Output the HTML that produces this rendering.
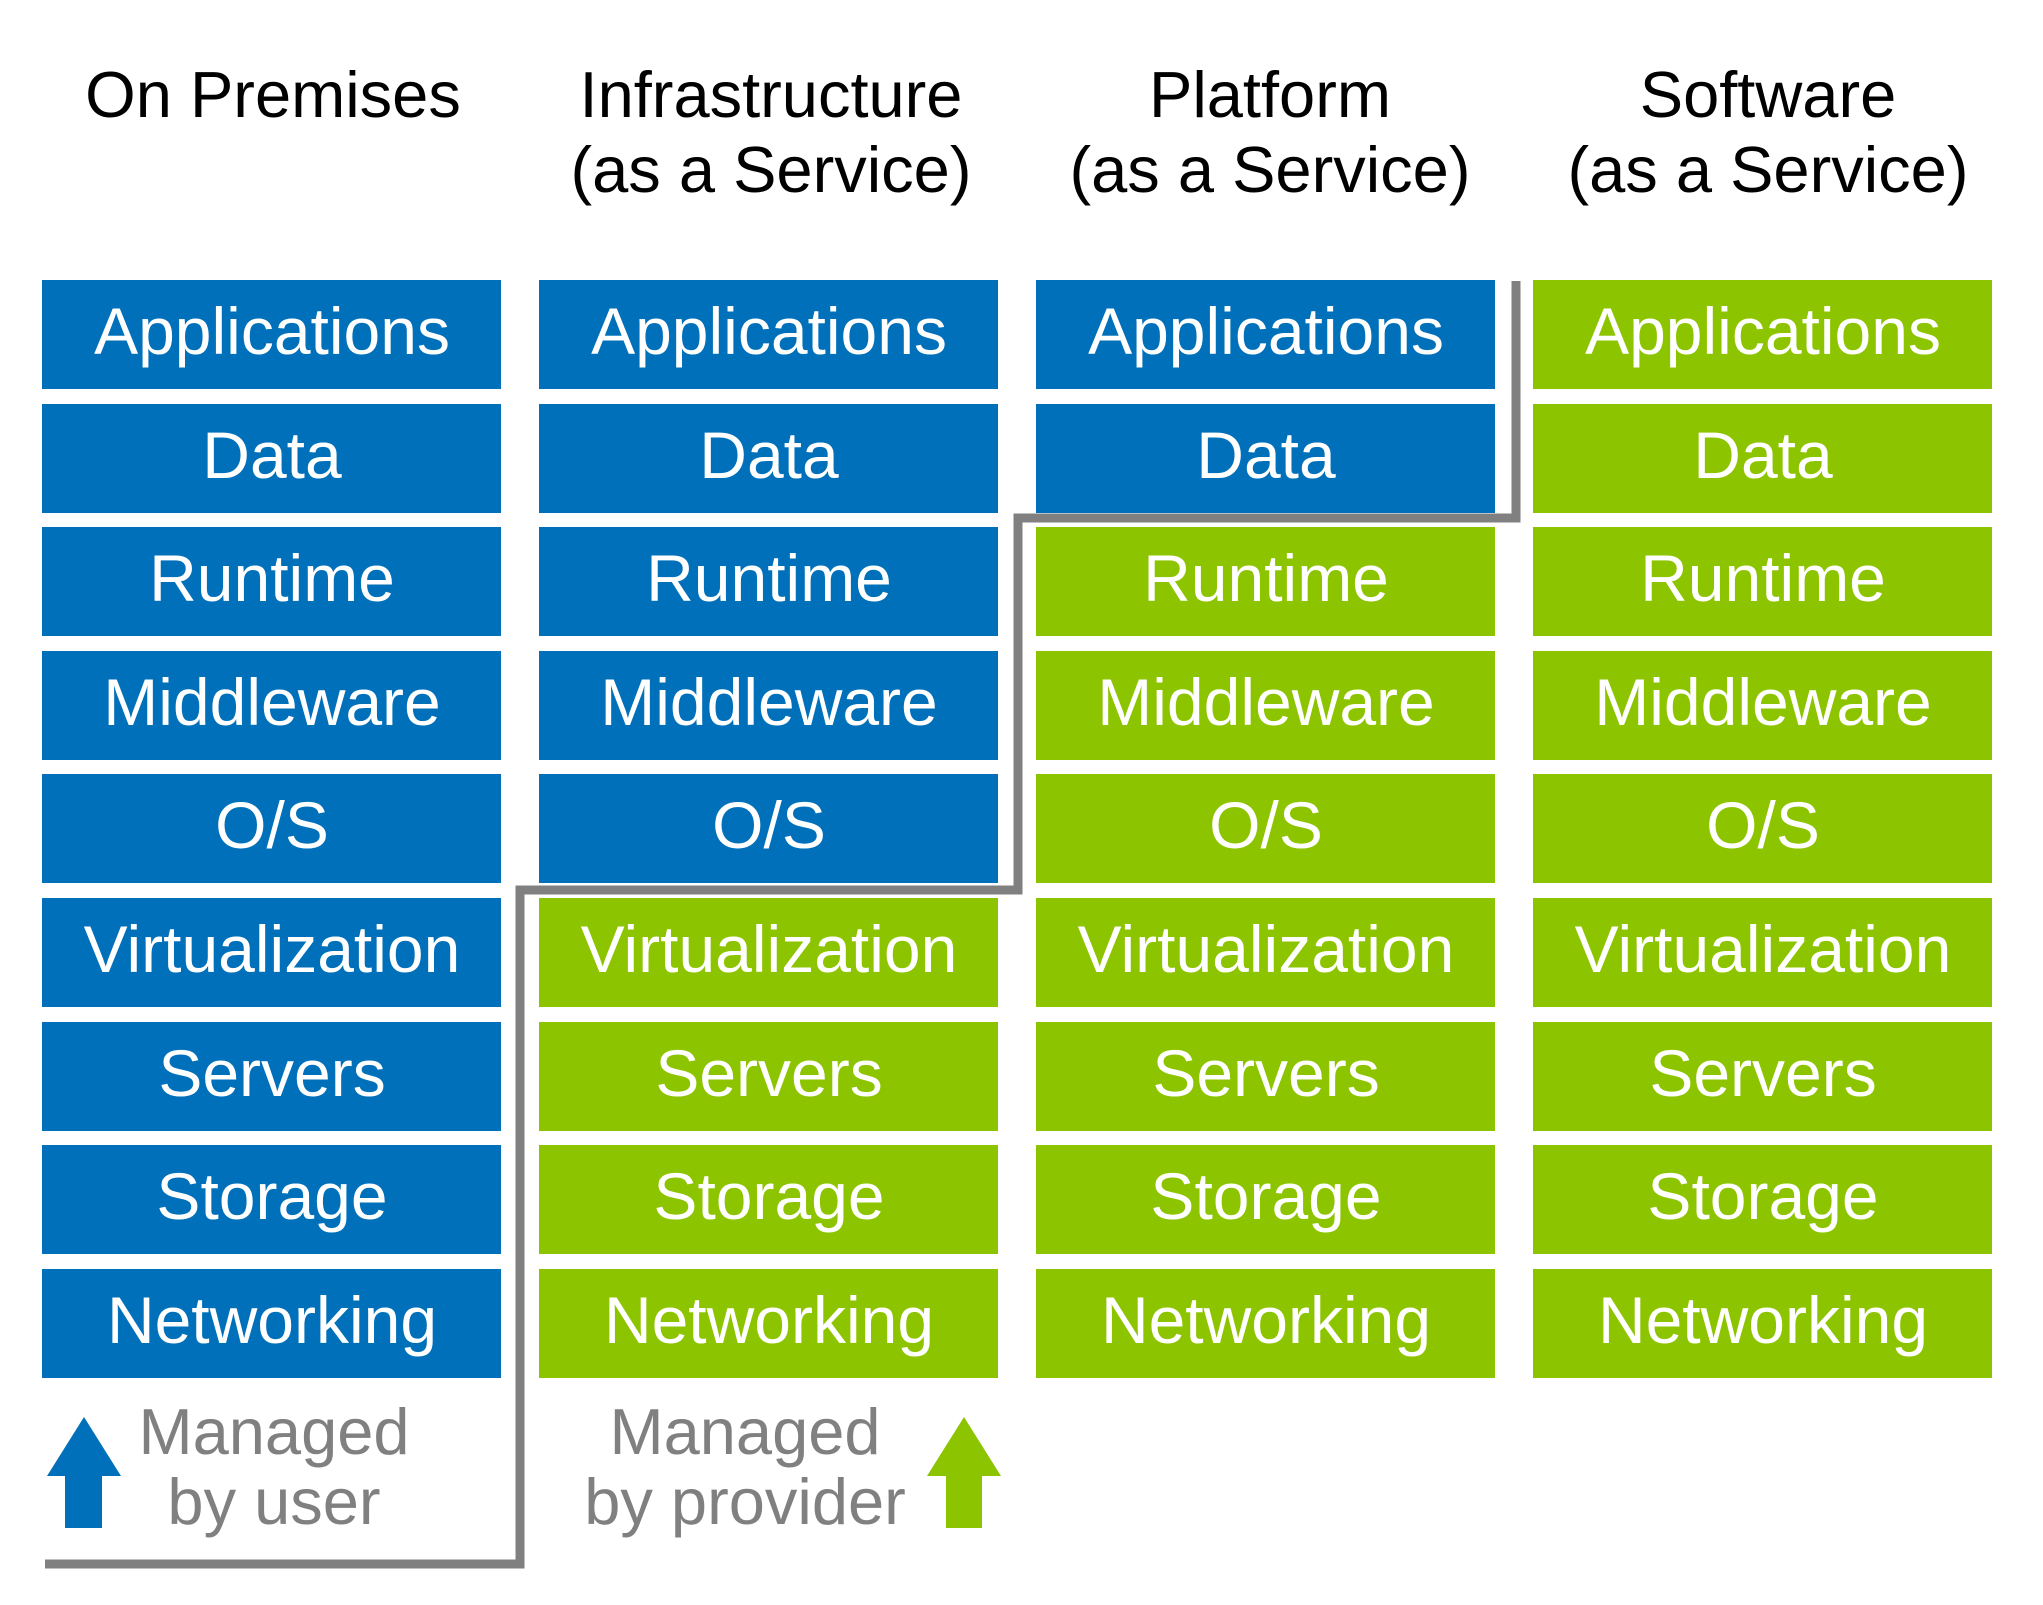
<!DOCTYPE html>
<html><head><meta charset="utf-8"><style>
html,body{margin:0;padding:0;background:#fff;}
svg{display:block;}
text{font-family:"Liberation Sans",Arial,sans-serif;}
</style></head><body>
<svg width="2043" height="1605" viewBox="0 0 2043 1605" xmlns="http://www.w3.org/2000/svg">
<defs>
<g id="labels">
<text x="0" y="354">Applications</text><text x="0" y="478">Data</text><text x="0" y="601">Runtime</text><text x="0" y="725">Middleware</text><text x="0" y="848">O/S</text><text x="0" y="972">Virtualization</text><text x="0" y="1096">Servers</text><text x="0" y="1219">Storage</text><text x="0" y="1343">Networking</text>
</g>
</defs>
<rect width="2043" height="1605" fill="#fff"/>
<g font-size="65" fill="#000" text-anchor="middle">
<text x="273" y="117">On Premises</text>
<text x="771" y="117">Infrastructure</text>
<text x="771" y="192">(as a Service)</text>
<text x="1270" y="117">Platform</text>
<text x="1270" y="192">(as a Service)</text>
<text x="1768" y="117">Software</text>
<text x="1768" y="192">(as a Service)</text>
</g>
<g fill="#0070BA">
<rect x="42" y="280" width="459" height="109"/><rect x="42" y="404" width="459" height="109"/><rect x="42" y="527" width="459" height="109"/><rect x="42" y="651" width="459" height="109"/><rect x="42" y="774" width="459" height="109"/><rect x="42" y="898" width="459" height="109"/><rect x="42" y="1022" width="459" height="109"/><rect x="42" y="1145" width="459" height="109"/><rect x="42" y="1269" width="459" height="109"/>
<rect x="539" y="280" width="459" height="109"/><rect x="539" y="404" width="459" height="109"/><rect x="539" y="527" width="459" height="109"/><rect x="539" y="651" width="459" height="109"/><rect x="539" y="774" width="459" height="109"/>
<rect x="1036" y="280" width="459" height="109"/><rect x="1036" y="404" width="459" height="109"/>
</g>
<g fill="#8DC400">
<rect x="539" y="898" width="459" height="109"/><rect x="539" y="1022" width="459" height="109"/><rect x="539" y="1145" width="459" height="109"/><rect x="539" y="1269" width="459" height="109"/>
<rect x="1036" y="527" width="459" height="109"/><rect x="1036" y="651" width="459" height="109"/><rect x="1036" y="774" width="459" height="109"/><rect x="1036" y="898" width="459" height="109"/><rect x="1036" y="1022" width="459" height="109"/><rect x="1036" y="1145" width="459" height="109"/><rect x="1036" y="1269" width="459" height="109"/>
<rect x="1533" y="280" width="459" height="109"/><rect x="1533" y="404" width="459" height="109"/><rect x="1533" y="527" width="459" height="109"/><rect x="1533" y="651" width="459" height="109"/><rect x="1533" y="774" width="459" height="109"/><rect x="1533" y="898" width="459" height="109"/><rect x="1533" y="1022" width="459" height="109"/><rect x="1533" y="1145" width="459" height="109"/><rect x="1533" y="1269" width="459" height="109"/>
</g>
<g font-size="66" fill="#fff" text-anchor="middle">
<use href="#labels" x="272"/>
<use href="#labels" x="769"/>
<use href="#labels" x="1266"/>
<use href="#labels" x="1763"/>
</g>
<polyline points="45,1564 520,1564 520,890 1018,890 1018,518 1516,518 1516,281" fill="none" stroke="#808080" stroke-width="9"/>
<polygon points="84,1417 121,1476 102,1476 102,1528 65,1528 65,1476 47,1476" fill="#0070BA"/>
<polygon points="964,1417 1001,1476 982,1476 982,1528 946,1528 946,1476 927,1476" fill="#8DC400"/>
<g font-size="65" fill="#808080" text-anchor="middle">
<text x="274" y="1454">Managed</text>
<text x="274" y="1524">by user</text>
<text x="745" y="1454">Managed</text>
<text x="745" y="1524">by provider</text>
</g>
</svg>
</body></html>
